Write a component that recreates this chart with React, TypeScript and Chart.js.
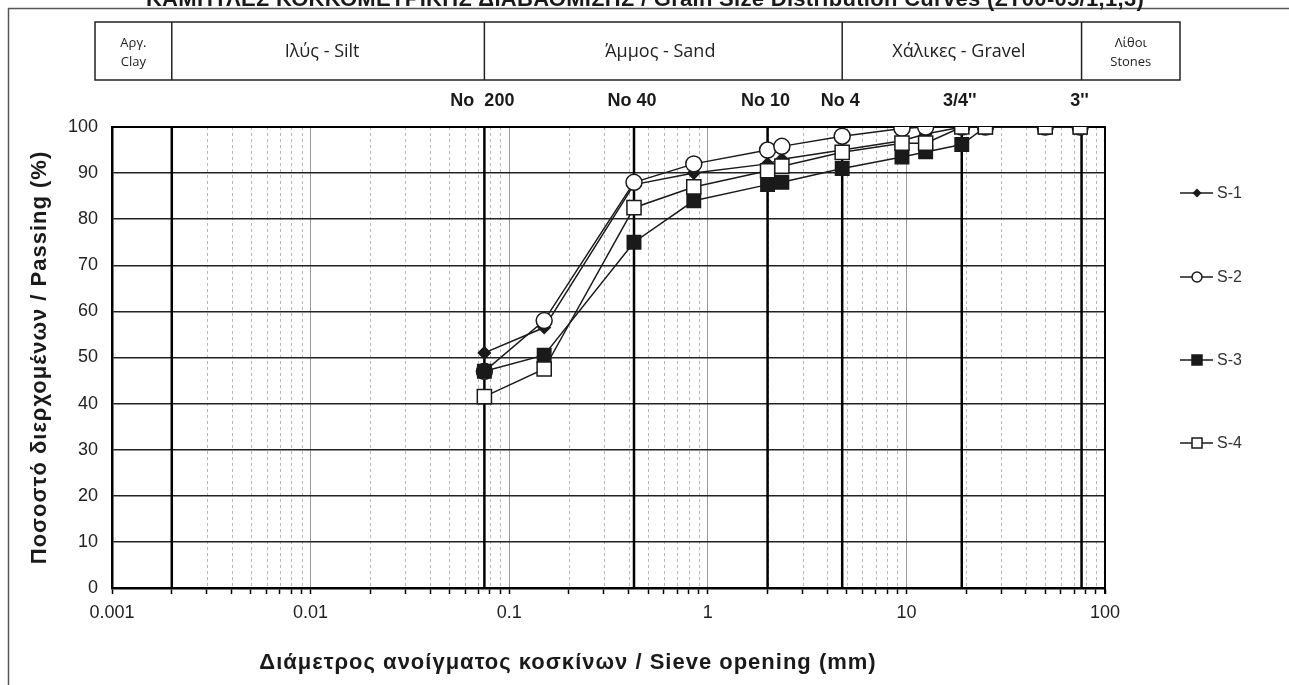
import { useEffect, useRef } from 'react';
import { Chart, registerables } from 'chart.js';

Chart.register(...registerables);

// Sieve openings (mm) and percent passing for each sample
const SIEVE_MM = [0.075, 0.15, 0.425, 0.85, 2, 2.36, 4.75, 9.5, 12.5, 19, 25, 50, 75];
const S1 = [51, 56.5, 87.5, 90, 92, 93, 95, 97, 98.5, 100, 100, 100, 100];
const S2 = [47, 58, 88, 92, 95, 95.8, 98, 99.7, 100, 100, 100, 100, 100];
const S3 = [47, 50.5, 75, 84, 87.5, 88, 91, 93.5, 94.6, 96.2, 100, 100, 100];
const S4 = [41.5, 47.5, 82.5, 87, 90.5, 91.5, 94.5, 96.5, 96.5, 100, 100, 100, 100];

// Log axis decades and the minor multipliers inside each decade
const DECADES = [0.001, 0.01, 0.1, 1, 10, 100];
const DECADE_LABELS = ['0.001', '0.01', '0.1', '1', '10', '100'];
const MINOR_STEPS = [2, 3, 4, 5, 6, 7, 8, 9];

// Standard sieve lines and their names
const SIEVE_LINES = [0.075, 0.425, 2, 4.75, 19, 76.2];
const SIEVE_NAMES = ['No  200', 'No 40', 'No 10', 'No 4', "3/4''", "3''"];
const CLAY_LIMIT = 0.002;

// Soil classification zones (boundaries in mm)
const ZONE_BOUNDS = [0.002, 0.075, 4.75, 76.2];
const ZONE_NAMES = [['Αργ.', 'Clay'], ['Ιλύς - Silt'], ['Άμμος - Sand'], ['Χάλικες - Gravel'], ['Λίθοι', 'Stones']];

const TITLE = 'ΚΑΜΠΥΛΕΣ ΚΟΚΚΟΜΕΤΡΙΚΗΣ ΔΙΑΒΑΘΜΙΣΗΣ / Grain Size Distribution Curves (ΣΤ00-05/1,1,3)';
const X_TITLE = 'Διάμετρος ανοίγματος κοσκίνων / Sieve opening (mm)';
const Y_TITLE = 'Ποσοστό διερχομένων / Passing (%)';

const SERIES_NAMES = ['S-1', 'S-2', 'S-3', 'S-4'];

const SANS = '"Liberation Sans", Arial, sans-serif';
const ZONE_FONT = '"Open Sans", "Noto Sans", sans-serif';
const INK = '#1a1a1a';

const GRID_VALUES: number[] = DECADES.slice(0, -1)
  .flatMap((d) => [d, ...MINOR_STEPS.map((m) => +(d * m).toPrecision(6))])
  .concat(DECADES[DECADES.length - 1]);

const isDecade = (v: number) => Math.abs(Math.log10(v) - Math.round(Math.log10(v))) < 1e-9;

type Marker = 'diamond' | 'circle' | 'square' | 'openSquare';
const LEGEND_MARKERS: Marker[] = ['diamond', 'circle', 'square', 'openSquare'];

function drawMarker(ctx: CanvasRenderingContext2D, kind: Marker, cx: number, cy: number) {
  ctx.save();
  ctx.lineWidth = 1.5;
  ctx.strokeStyle = INK;
  ctx.beginPath();
  if (kind === 'diamond') {
    ctx.moveTo(cx, cy - 4.5);
    ctx.lineTo(cx + 4.5, cy);
    ctx.lineTo(cx, cy + 4.5);
    ctx.lineTo(cx - 4.5, cy);
    ctx.closePath();
    ctx.fillStyle = INK;
    ctx.fill();
  } else if (kind === 'circle') {
    ctx.arc(cx, cy, 5, 0, Math.PI * 2);
    ctx.fillStyle = '#fff';
    ctx.fill();
    ctx.stroke();
  } else {
    ctx.rect(cx - 5, cy - 5, 10, 10);
    ctx.fillStyle = kind === 'square' ? INK : '#fff';
    ctx.fill();
    ctx.stroke();
  }
  ctx.restore();
}

function spaced(ctx: CanvasRenderingContext2D, px: number) {
  (ctx as any).letterSpacing = `${px}px`;
}

const decorPlugin = {
  id: 'gradingDecor',
  beforeDraw(chart: any) {
    const { ctx, chartArea: a, scales } = chart;
    const x = scales.x;
    ctx.save();

    // outer frame
    ctx.strokeStyle = '#555';
    ctx.lineWidth = 1.5;
    ctx.beginPath();
    ctx.moveTo(8.5, 685);
    ctx.lineTo(8.5, 8.5);
    ctx.lineTo(1289, 8.5);
    ctx.stroke();

    // title, running off the top edge
    ctx.fillStyle = INK;
    ctx.font = `bold 22px ${SANS}`;
    ctx.textAlign = 'center';
    ctx.textBaseline = 'alphabetic';
    spaced(ctx, 0.3);
    ctx.fillText(TITLE, 645, 6);
    spaced(ctx, 0);

    // dashed minor grid lines
    ctx.setLineDash([3, 3]);
    ctx.strokeStyle = '#b8b8b8';
    ctx.lineWidth = 1;
    GRID_VALUES.filter((v) => !isDecade(v)).forEach((v) => {
      const px = Math.round(x.getPixelForValue(v)) + 0.5;
      ctx.beginPath();
      ctx.moveTo(px, a.top);
      ctx.lineTo(px, a.bottom);
      ctx.stroke();
    });
    ctx.setLineDash([]);

    // classification header
    const top = 22;
    const bottom = 80;
    const edges = [95, ...ZONE_BOUNDS.map((b) => x.getPixelForValue(b)), 1180];
    ctx.strokeStyle = '#222';
    ctx.lineWidth = 1.5;
    ctx.strokeRect(edges[0], top, edges[edges.length - 1] - edges[0], bottom - top);
    edges.slice(1, -1).forEach((e) => {
      ctx.beginPath();
      ctx.moveTo(e, top);
      ctx.lineTo(e, bottom);
      ctx.stroke();
    });
    ctx.fillStyle = '#222';
    ctx.textBaseline = 'middle';
    ZONE_NAMES.forEach((lines, i) => {
      const cx = (edges[i] + edges[i + 1]) / 2;
      if (lines.length === 1) {
        ctx.font = `18px ${ZONE_FONT}`;
        ctx.fillText(lines[0], cx - (i === 1 ? 6 : 3), 52);
      } else {
        ctx.font = `13px ${ZONE_FONT}`;
        ctx.fillText(lines[0], cx, 43);
        ctx.fillText(lines[1], cx, 62);
      }
    });
    ctx.restore();
  },
  beforeDatasetsDraw(chart: any) {
    const { ctx, chartArea: a, scales } = chart;
    const x = scales.x;
    ctx.save();
    ctx.strokeStyle = '#000';
    ctx.lineWidth = 2.5;
    [CLAY_LIMIT, ...SIEVE_LINES].forEach((v) => {
      const px = x.getPixelForValue(v);
      ctx.beginPath();
      ctx.moveTo(px, a.top);
      ctx.lineTo(px, a.bottom);
      ctx.stroke();
    });
    // right and top frame of the plot
    ctx.lineWidth = 2;
    ctx.beginPath();
    ctx.moveTo(a.left, a.top);
    ctx.lineTo(a.right, a.top);
    ctx.lineTo(a.right, a.bottom + 6);
    ctx.stroke();
    ctx.restore();
  },
  afterDraw(chart: any) {
    const { ctx, chartArea: a, scales } = chart;
    const x = scales.x;
    ctx.save();
    ctx.fillStyle = INK;

    // sieve names above the plot
    ctx.font = `bold 18px ${SANS}`;
    ctx.textAlign = 'center';
    ctx.textBaseline = 'middle';
    SIEVE_LINES.forEach((v, i) => {
      ctx.fillText(SIEVE_NAMES[i], x.getPixelForValue(v) - 2, 101);
    });

    // axis titles
    ctx.font = `bold 22px ${SANS}`;
    spaced(ctx, 1);
    ctx.fillText(X_TITLE, 568, 663);
    ctx.save();
    ctx.translate(40, (a.top + a.bottom) / 2);
    ctx.rotate(-Math.PI / 2);
    ctx.fillText(Y_TITLE, 0, 0);
    ctx.restore();
    spaced(ctx, 0);

    // legend
    const legendY = [193, 277, 360, 443];
    ctx.font = `16px ${SANS}`;
    ctx.textAlign = 'left';
    SERIES_NAMES.forEach((name, i) => {
      const y = legendY[i];
      ctx.strokeStyle = INK;
      ctx.lineWidth = 1.5;
      ctx.beginPath();
      ctx.moveTo(1180, y);
      ctx.lineTo(1213, y);
      ctx.stroke();
      drawMarker(ctx, LEGEND_MARKERS[i], 1197, y);
      ctx.fillStyle = '#333';
      ctx.fillText(name, 1217, y + 1);
    });
    ctx.restore();
  },
};

const toPoints = (vals: number[]) => SIEVE_MM.map((mm, i) => ({ x: mm, y: vals[i] }));

export default function App() {
  const canvasRef = useRef<HTMLCanvasElement | null>(null);

  useEffect(() => {
    const canvas = canvasRef.current;
    if (!canvas) return;
    const line = { borderColor: INK, borderWidth: 1.5, tension: 0, pointBorderColor: INK, pointBorderWidth: 1.5 };
    const chart = new Chart(canvas, {
      type: 'line',
      data: {
        datasets: [
          { ...line, label: SERIES_NAMES[0], data: toPoints(S1), pointStyle: 'rectRot', pointRadius: 6, pointBackgroundColor: INK, order: 3 },
          { ...line, label: SERIES_NAMES[1], data: toPoints(S2), pointStyle: 'circle', pointRadius: 8, pointBackgroundColor: '#fff', order: 2 },
          { ...line, label: SERIES_NAMES[2], data: toPoints(S3), pointStyle: 'rect', pointRadius: 9.5, pointBackgroundColor: INK, order: 1 },
          { ...line, label: SERIES_NAMES[3], data: toPoints(S4), pointStyle: 'rect', pointRadius: 10, pointBackgroundColor: '#fff', order: 0 },
        ],
      },
      options: {
        responsive: false,
        animation: false,
        devicePixelRatio: 1,
        layout: { padding: { top: 127, right: 184, left: 0, bottom: 0 } },
        plugins: { legend: { display: false }, tooltip: { enabled: false }, title: { display: false } },
        scales: {
          x: {
            type: 'logarithmic',
            min: DECADES[0],
            max: DECADES[DECADES.length - 1],
            afterBuildTicks: (scale: any) => {
              scale.ticks = GRID_VALUES.map((v) => ({ value: v }));
            },
            afterFit: (scale: any) => {
              scale.height = 97;
            },
            ticks: {
              autoSkip: false,
              maxRotation: 0,
              padding: 8,
              color: '#222',
              font: { family: SANS, size: 18 },
              callback: (v: any) => {
                const idx = DECADES.findIndex((d) => Math.abs(d - Number(v)) < d * 1e-6);
                return idx >= 0 ? DECADE_LABELS[idx] : '';
              },
            },
            grid: {
              color: (c: any) => (c.tick && isDecade(c.tick.value) ? '#9a9a9a' : 'rgba(0,0,0,0)'),
              lineWidth: 1,
              drawTicks: true,
              tickLength: 6,
              tickColor: '#000',
              tickWidth: 1.5,
            },
            border: { color: '#000', width: 2.5 },
          },
          y: {
            min: 0,
            max: 100,
            afterFit: (scale: any) => {
              scale.width = 112;
            },
            ticks: {
              stepSize: 10,
              padding: 14,
              color: '#222',
              font: { family: SANS, size: 18 },
            },
            grid: { color: '#222', lineWidth: 1.5, drawTicks: false },
            border: { color: '#000', width: 2.5 },
          },
        },
      },
      plugins: [decorPlugin],
    } as any);
    return () => chart.destroy();
  }, []);

  return (
    <div style={{ position: 'fixed', left: 0, top: 0, width: 1289, height: 685, background: '#fff' }}>
      <canvas ref={canvasRef} width={1289} height={685} style={{ display: 'block' }} />
    </div>
  );
}
